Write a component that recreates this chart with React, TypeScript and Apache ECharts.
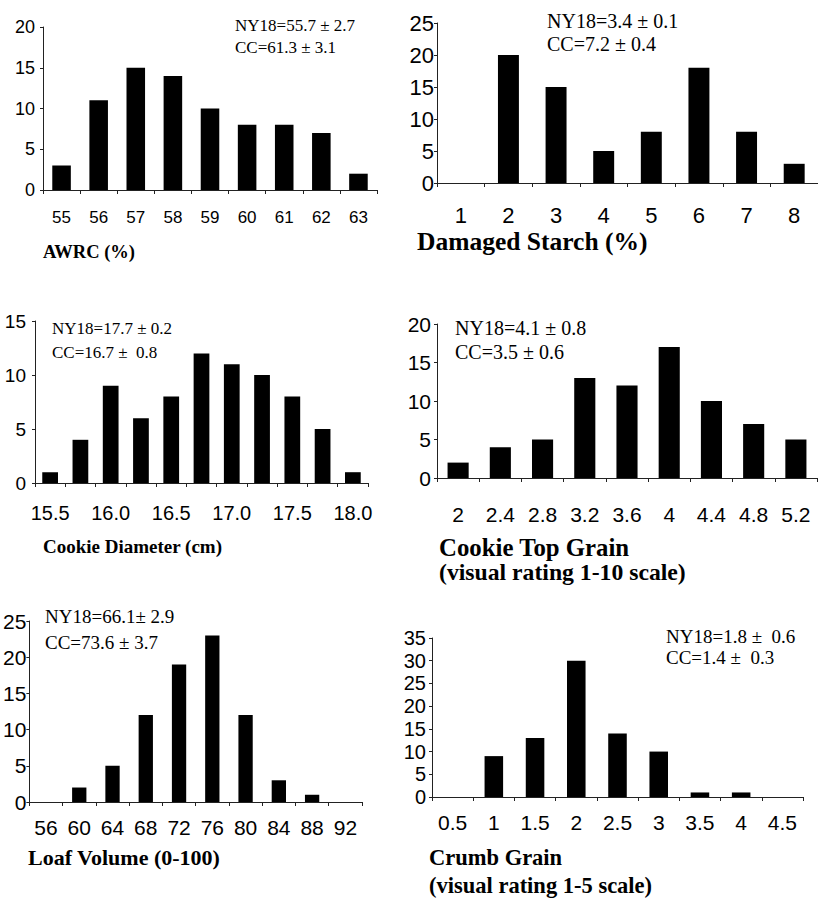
import React, { useEffect, useRef } from 'react';
import * as echarts from 'echarts';

// ---- Data ----
const awrcCats = ['55', '56', '57', '58', '59', '60', '61', '62', '63'];
const awrcVals = [3, 11, 15, 14, 10, 8, 8, 7, 2];

const starchCats = ['1', '2', '3', '4', '5', '6', '7', '8'];
const starchVals = [0, 20, 15, 5, 8, 18, 8, 3];

const diamCats = ['15.5', '15.75', '16.0', '16.25', '16.5', '16.75', '17.0', '17.25', '17.5', '17.75', '18.0'];
const diamVals = [1, 4, 9, 6, 8, 12, 11, 10, 8, 5, 1];

const topGrainCats = ['2', '2.4', '2.8', '3.2', '3.6', '4', '4.4', '4.8', '5.2'];
const topGrainVals = [2, 4, 5, 13, 12, 17, 10, 7, 5];

const loafCats = ['56', '60', '64', '68', '72', '76', '80', '84', '88', '92'];
const loafVals = [0, 2, 5, 12, 19, 23, 12, 3, 1, 0];

const crumbCats = ['0.5', '1', '1.5', '2', '2.5', '3', '3.5', '4', '4.5'];
const crumbVals = [0, 9, 13, 30, 14, 10, 1, 1, 0];

const titles = [
  ['AWRC (%)'],
  ['Damaged Starch (%)'],
  ['Cookie Diameter (cm)'],
  ['Cookie Top Grain', '(visual rating 1-10 scale)'],
  ['Loaf Volume (0-100)'],
  ['Crumb Grain', '(visual rating 1-5 scale)'],
];
const notes = [
  ['NY18=55.7 ± 2.7', 'CC=61.3 ± 3.1'],
  ['NY18=3.4 ± 0.1', 'CC=7.2 ± 0.4'],
  ['NY18=17.7 ± 0.2', 'CC=16.7 ±  0.8'],
  ['NY18=4.1 ± 0.8', 'CC=3.5 ± 0.6'],
  ['NY18=66.1± 2.9', 'CC=73.6 ± 3.7'],
  ['NY18=1.8 ±  0.6', 'CC=1.4 ±  0.3'],
];
const yMax = [20, 25, 15, 20, 25, 35];

// ---- Layout (positions / styles) ----
const panels = [
  { cats: awrcCats, vals: awrcVals, left: 43, top: 27, width: 334, height: 163, bw: '50%', yFont: 18, xFont: 17, xMargin: 19, yMargin: 8, xInterval: 0,
    title: { x: 43, ys: [252], sizes: [18.5] }, note: { x: 235, ys: [25, 47], size: 17 } },
  { cats: starchCats, vals: starchVals, left: 437, top: 23, width: 386, height: 160, bw: '44%', yFont: 22, xFont: 22, xMargin: 21, yMargin: 3, xInterval: 0,
    title: { x: 417, ys: [241], sizes: [25.5] }, note: { x: 547, ys: [21, 44], size: 20 } },
  { cats: diamCats, vals: diamVals, left: 35, top: 321, width: 333, height: 162, bw: '52%', yFont: 19, xFont: 20, xMargin: 20, yMargin: 9, xInterval: 1,
    title: { x: 43, ys: [546], sizes: [19] }, note: { x: 52, ys: [328, 352], size: 17 } },
  { cats: topGrainCats, vals: topGrainVals, left: 437, top: 324, width: 380, height: 154, bw: '50%', yFont: 21, xFont: 21, xMargin: 26, yMargin: 6, xInterval: 0,
    title: { x: 439, ys: [547, 572], sizes: [24.8, 23.7] }, note: { x: 455, ys: [328, 352], size: 20 } },
  { cats: loafCats, vals: loafVals, left: 28, top: 621, width: 334, height: 181, bw: '43%', yFont: 21, xFont: 21, xMargin: 15, yMargin: 3, xInterval: 0,
    title: { x: 28, ys: [857], sizes: [22] }, note: { x: 45, ys: [616, 642], size: 19 } },
  { cats: crumbCats, vals: crumbVals, left: 432, top: 638, width: 371, height: 159, bw: '45%', yFont: 20, xFont: 21, xMargin: 15, yMargin: 6, xInterval: 0,
    title: { x: 429, ys: [857, 885], sizes: [22.5, 22.5] }, note: { x: 666, ys: [636, 657], size: 19 } },
];

const sans = "'Liberation Sans', Arial, sans-serif";
const serif = "'Liberation Serif', 'Times New Roman', serif";

function buildOption() {
  const grid: any[] = [];
  const xAxis: any[] = [];
  const yAxis: any[] = [];
  const series: any[] = [];
  const graphic: any[] = [];

  panels.forEach((p, i) => {
    grid.push({ left: p.left, top: p.top, width: p.width, height: p.height, containLabel: false });
    xAxis.push({
      type: 'category',
      gridIndex: i,
      data: p.cats,
      boundaryGap: true,
      axisLine: { show: true, lineStyle: { color: '#222', width: 1 } },
      axisTick: { show: true, alignWithLabel: false, interval: 0, length: 4, lineStyle: { color: '#222' } },
      axisLabel: { interval: p.xInterval, color: '#000', fontFamily: sans, fontSize: p.xFont, margin: p.xMargin },
      splitLine: { show: false },
    });
    yAxis.push({
      type: 'value',
      gridIndex: i,
      min: 0,
      max: yMax[i],
      interval: 5,
      axisLine: { show: true, lineStyle: { color: '#222', width: 1 } },
      axisTick: { show: true, length: 3, inside: false, lineStyle: { color: '#222' } },
      axisLabel: { color: '#000', fontFamily: sans, fontSize: p.yFont, margin: p.yMargin },
      splitLine: { show: false },
    });
    series.push({
      type: 'bar',
      xAxisIndex: i,
      yAxisIndex: i,
      data: p.vals,
      barWidth: p.bw,
      itemStyle: { color: '#000' },
    });
    titles[i].forEach((t, k) => {
      graphic.push({
        type: 'text',
        x: p.title.x,
        y: p.title.ys[k],
        style: {
          text: t,
          fill: '#000',
          font: `bold ${p.title.sizes[k]}px ${serif}`,
          textVerticalAlign: 'middle',
          verticalAlign: 'middle',
          textAlign: 'left',
        },
      });
    });
    notes[i].forEach((t, k) => {
      graphic.push({
        type: 'text',
        x: p.note.x,
        y: p.note.ys[k],
        style: {
          text: t,
          fill: '#000',
          font: `${p.note.size}px ${serif}`,
          textVerticalAlign: 'middle',
          verticalAlign: 'middle',
          textAlign: 'left',
        },
      });
    });
  });

  return {
    animation: false,
    backgroundColor: '#fff',
    grid,
    xAxis,
    yAxis,
    series,
    graphic,
  };
}

export default function App() {
  const ref = useRef<HTMLDivElement>(null);
  useEffect(() => {
    const chart = echarts.init(ref.current!, null, { renderer: 'svg' });
    chart.setOption(buildOption() as any);
    return () => chart.dispose();
  }, []);
  return (
    <div
      ref={ref}
      style={{ position: 'absolute', left: 0, top: 0, width: 818, height: 899, background: '#fff' }}
    />
  );
}
